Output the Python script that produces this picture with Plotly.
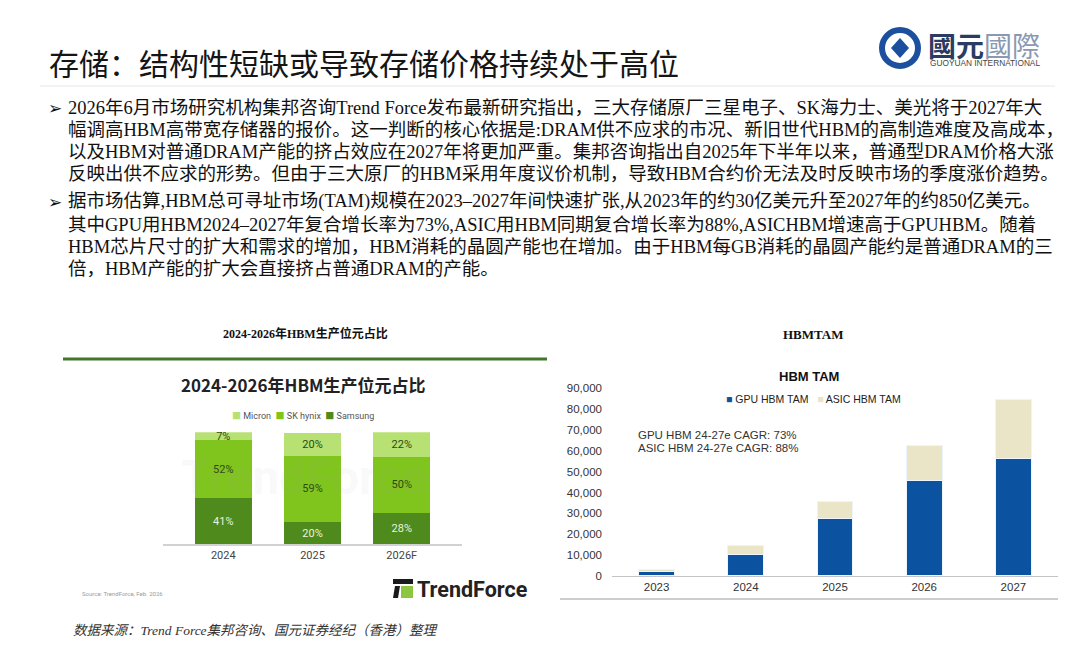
import plotly.graph_objects as go

# page coordinates of the 1080x647 window; the browser adds an 8px body margin
OFF = 8
W, H = 1080 - 2 * OFF, 647 - 2 * OFF

def px(x):
    return (x - OFF) / W

def py(y):
    return 1 - (y - OFF) / H

# ---------------- data ----------------
title_text = "存储：结构性短缺或导致存储价格持续处于高位"
para1 = [
    "2026年6月市场研究机构集邦咨询Trend Force发布最新研究指出，三大存储原厂三星电子、SK海力士、美光将于2027年大",
    "幅调高HBM高带宽存储器的报价。这一判断的核心依据是:DRAM供不应求的市况、新旧世代HBM的高制造难度及高成本，",
    "以及HBM对普通DRAM产能的挤占效应在2027年将更加严重。集邦咨询指出自2025年下半年以来，普通型DRAM价格大涨",
    "反映出供不应求的形势。但由于三大原厂的HBM采用年度议价机制，导致HBM合约价无法及时反映市场的季度涨价趋势。",
]
para2 = [
    "据市场估算,HBM总可寻址市场(TAM)规模在2023–2027年间快速扩张,从2023年的约30亿美元升至2027年的约850亿美元。",
    "其中GPU用HBM2024–2027年复合增长率为73%,ASIC用HBM同期复合增长率为88%,ASICHBM增速高于GPUHBM。随着",
    "HBM芯片尺寸的扩大和需求的增加，HBM消耗的晶圆产能也在增加。由于HBM每GB消耗的晶圆产能约是普通DRAM的三",
    "倍，HBM产能的扩大会直接挤占普通DRAM的产能。",
]
footer_text = "数据来源：Trend Force集邦咨询、国元证券经纪（香港）整理"

# Left chart: HBM bit production share (%)
share_years = ["2024", "2025", "2026F"]
samsung_share = [41, 20, 28]
skhynix_share = [52, 59, 50]
micron_share = [7, 20, 22]
left_caption = "2024-2026年HBM生产位元占比"
left_title = "2024-2026年HBM生产位元占比"

# Right chart: HBM TAM (US$ mn)
tam_years = ["2023", "2024", "2025", "2026", "2027"]
gpu_tam = [2000, 10500, 27800, 46000, 56400]
asic_tam = [1200, 4300, 7700, 16500, 28000]
tam_ticks = [0, 10000, 20000, 30000, 40000, 50000, 60000, 70000, 80000, 90000]
right_caption = "HBMTAM"
right_title = "HBM TAM"
cagr_notes = ["GPU HBM 24-27e CAGR: 73%", "ASIC HBM 24-27e CAGR: 88%"]

# ---------------- styles ----------------
C_SAMSUNG = "#4e8a1c"
C_SKH = "#80c41e"
C_MICRON = "#b8e173"
C_GPU = "#0b53a1"
C_ASIC = "#ebe5c8"
SERIF = "Liberation Serif, Noto Sans CJK SC"
CJK = "Noto Sans CJK SC"
SANS = "Liberation Sans, Arial"
ROBOTO = "Roboto, Noto Sans CJK SC"

fig = go.Figure()

# left stacked bars
for name, vals, col, tcol in [
    ("Samsung", samsung_share, C_SAMSUNG, "#e9f3dc"),
    ("SK hynix", skhynix_share, C_SKH, "#2c4a0e"),
    ("Micron", micron_share, C_MICRON, "#2c4a0e"),
]:
    fig.add_trace(go.Bar(
        x=share_years, y=vals, name=name, marker=dict(color=col, line=dict(width=0)),
        width=0.64, texttemplate="%{y}%", textposition="inside", insidetextanchor="middle",
        constraintext="none", textfont=dict(family=ROBOTO, size=11, color=tcol),
        cliponaxis=False, showlegend=False, xaxis="x", yaxis="y", hoverinfo="skip",
    ))

# right stacked bars
for name, vals, col in [("GPU HBM TAM", gpu_tam, C_GPU), ("ASIC HBM TAM", asic_tam, C_ASIC)]:
    fig.add_trace(go.Bar(
        x=tam_years, y=vals, name=name, marker=dict(color=col, line=dict(width=1, color="#eef4fb")),
        width=0.4, showlegend=False, xaxis="x2", yaxis="y2", hoverinfo="skip",
    ))

ann = []
shapes = []

def note(x, y, text, font, xanchor="left"):
    ann.append(dict(xref="paper", yref="paper", x=px(x), y=py(y), text=text, showarrow=False,
                    xanchor=xanchor, yanchor="middle", font=font))

def pline(x0, x1, y0, y1, color, width):
    shapes.append(dict(type="line", xref="paper", yref="paper", x0=px(x0), x1=px(x1), y0=py(y0), y1=py(y1),
                       line=dict(color=color, width=width)))

# title
note(47, 62, title_text, dict(family=CJK, size=30, color="#151515"))
pline(40, 1055, 86, 86, "#e6e6e6", 1)

# logo
shapes.append(dict(type="circle", xref="paper", yref="paper", x0=px(882), x1=px(918), y0=py(66), y1=py(30),
                   line=dict(color="#1c4f9e", width=6)))
shapes.append(dict(type="path", xref="paper", yref="paper",
                   path=f"M {px(900)},{py(38)} L {px(909)},{py(48)} L {px(900)},{py(58)} L {px(891)},{py(48)} Z",
                   fillcolor="#1c4f9e", line=dict(width=0)))
note(926, 45, "<b>國元</b><span style='color:#8a98b4'>國際</span>", dict(family=CJK, size=28, color="#2b3c63"))
note(928, 63, "GUOYUAN INTERNATIONAL", dict(family=SANS, size=8.3, color="#444444"))

# body text
y1 = [108, 130, 152, 174]
y2 = [202, 225, 247, 269]
for lines, ys in [(para1, y1), (para2, y2)]:
    note(46, ys[0], "➢", dict(family="DejaVu Sans", size=17, color="#111111"))
    for t, yy in zip(lines, ys):
        note(66, yy, t, dict(family=SERIF, size=18.5, color="#111111"))

# left chart decoration
note(305, 333, f"<b>{left_caption}</b>", dict(family=SERIF, size=12, color="#111111"), "center")
pline(63, 547, 359, 359, "#43762b", 3)
note(303, 384, f"<b>{left_title}</b>", dict(family=CJK, size=17, color="#222222"), "center")
note(230, 416,
     (f"<span style='color:{C_MICRON}'>■</span> Micron  "
      f"<span style='color:{C_SKH}'>■</span> SK hynix  "
      f"<span style='color:{C_SAMSUNG}'>■</span> Samsung"),
     dict(family=ROBOTO, size=9, color="#555555"))
note(304, 477, "<b>TrendForce</b>", dict(family=ROBOTO, size=48, color="rgba(170,170,170,0.08)"), "center")
note(80, 593, "Source: TrendForce, Feb. 2026", dict(family=ROBOTO, size=6, color="#9a9a9a"))
# TrendForce logo
shapes.append(dict(type="rect", xref="paper", yref="paper", x0=px(393), x1=px(413), y0=py(584), y1=py(579),
                   fillcolor="#1a1a1a", line=dict(width=0)))
shapes.append(dict(type="path", xref="paper", yref="paper",
                   path=f"M {px(395)},{py(586)} L {px(400)},{py(586)} L {px(398)},{py(598)} L {px(393)},{py(598)} Z",
                   fillcolor="#1a1a1a", line=dict(width=0)))
shapes.append(dict(type="rect", xref="paper", yref="paper", x0=px(401), x1=px(413), y0=py(598), y1=py(586),
                   fillcolor="#8cc63f", line=dict(width=0)))
note(415, 589, "<b>TrendForce</b>", dict(family=ROBOTO, size=21.5, color="#222222"))

# right chart decoration
note(813, 334, f"<b>{right_caption}</b>", dict(family="Liberation Serif", size=13, color="#111111"), "center")
note(809, 376, f"<b>{right_title}</b>", dict(family=SANS, size=13, color="#111111"), "center")
note(724, 399,
     (f"<span style='color:{C_GPU}'>■</span> GPU HBM TAM   "
      f"<span style='color:{C_ASIC}'>■</span> ASIC HBM TAM"),
     dict(family=SANS, size=10.5, color="#222222"))
for t, yy in zip(cagr_notes, [435, 448]):
    note(636, yy, t, dict(family=SANS, size=11.5, color="#333333"))
pline(560, 1058, 599, 599, "#9a9a9a", 1)

# footer
note(71, 630, f"<i>{footer_text}</i>", dict(family=SERIF, size=13.5, color="#333333"))

fig.update_layout(
    width=W, height=H, margin=dict(l=0, r=0, t=0, b=0, pad=0), autosize=False,
    paper_bgcolor="white", plot_bgcolor="rgba(0,0,0,0)",
    barmode="stack", showlegend=False,
    annotations=ann, shapes=shapes,
    xaxis=dict(domain=[px(163), px(462)], range=[-0.675, 2.675], anchor="y", automargin=False,
               showline=True, linecolor="#d2d2d2", linewidth=1.5, ticks="", showgrid=False,
               tickfont=dict(family=ROBOTO, size=11, color="#444444"), fixedrange=True),
    yaxis=dict(domain=[py(544.3), py(432.3)], range=[0, 100], anchor="x", visible=False,
               automargin=False, fixedrange=True),
    xaxis2=dict(domain=[px(612), px(1058)], range=[-0.5, 4.5], anchor="y2", automargin=False,
                showline=True, linecolor="#c4c4c4", linewidth=1.2, ticks="", showgrid=False,
                tickfont=dict(family=SANS, size=11.5, color="#333333"), fixedrange=True),
    yaxis2=dict(domain=[py(576), py(388.3)], range=[0, 90000], anchor="x2", automargin=False,
                tickvals=tam_ticks, tickformat=",", showgrid=False, zeroline=False, showline=False,
                ticks="", ticklabelstandoff=9,
                tickfont=dict(family=SANS, size=11.5, color="#333333"), fixedrange=True),
)

fig.write_html("out.html")
